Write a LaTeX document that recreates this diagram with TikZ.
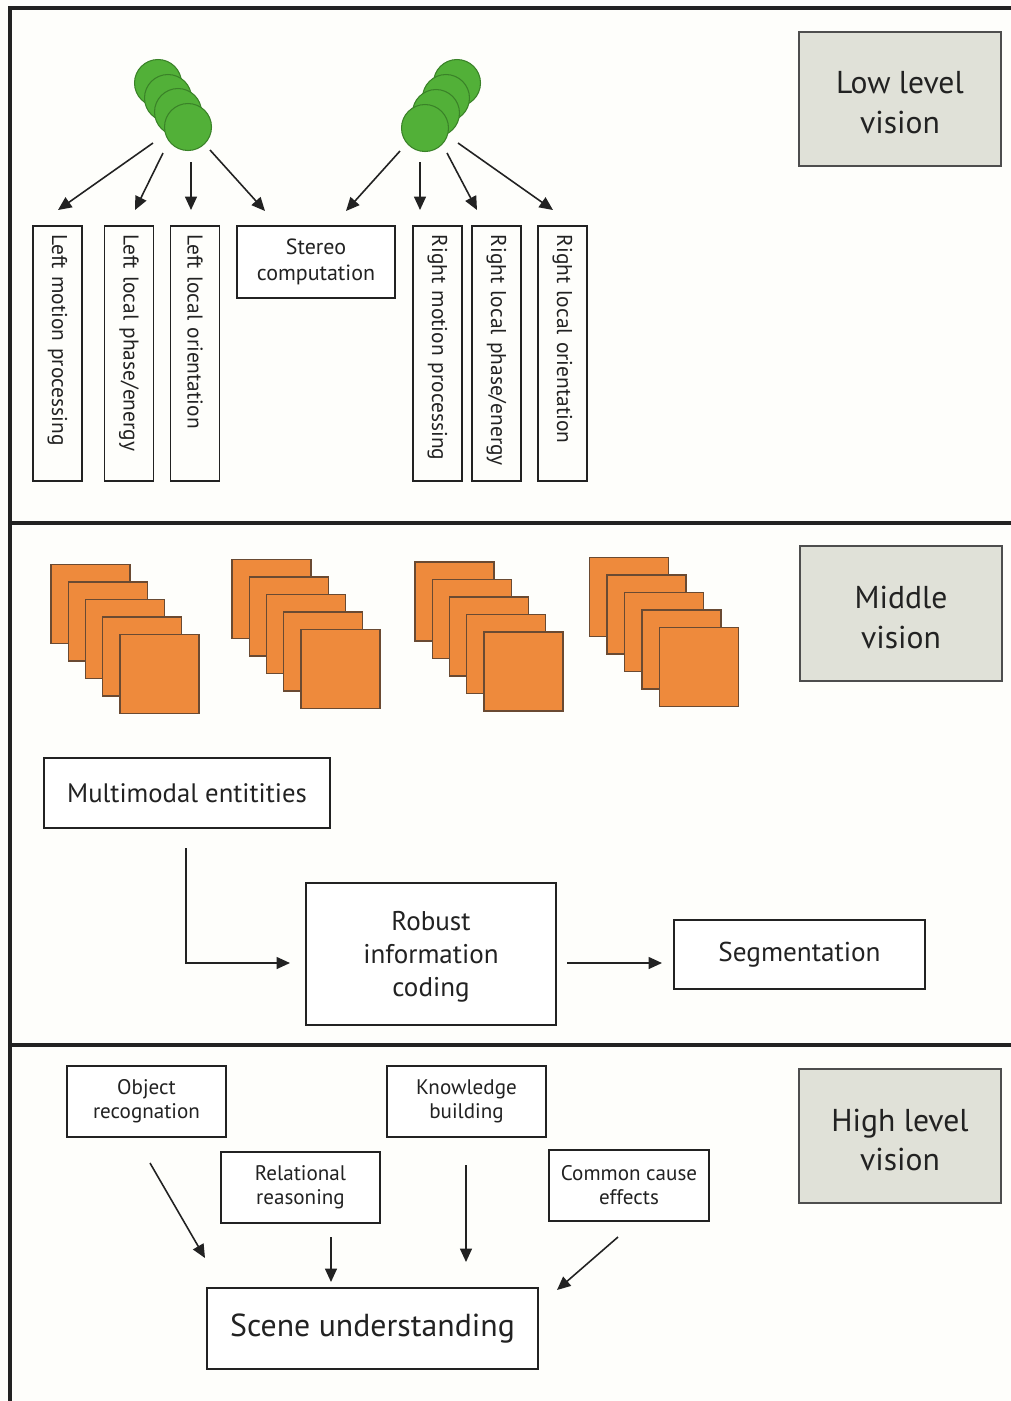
\documentclass[tikz,border=0pt]{standalone}
\usepackage{fontspec}
\setmainfont{PT Sans}
\usetikzlibrary{arrows.meta}
\definecolor{bg}{HTML}{FEFEFB}
\definecolor{ballfill}{HTML}{52B038}
\definecolor{ballline}{HTML}{3A8228}
\definecolor{sqfill}{HTML}{EE8A3C}
\definecolor{sqline}{HTML}{6A4A32}
\definecolor{lvlfill}{HTML}{E0E1D8}
\definecolor{ink}{HTML}{222222}
\tikzset{
  frameline/.style={line width=1.8pt, ink},
  ball/.style={circle, draw=ballline, fill=ballfill, line width=0.6pt, minimum size=0.94cm, inner sep=0pt},
  osq/.style={draw=sqline, fill=sqfill, line width=0.7pt, minimum size=1.58cm, inner sep=0pt},
  vbox/.style={draw=ink, line width=0.9pt, rotate=-90, minimum width=5.1cm, minimum height=0.98cm,
    text width=4.76cm, align=left, inner xsep=0.17cm, font=\fontsize{12.2}{14}\selectfont, text=ink},
  tbox/.style={draw=ink, line width=0.9pt, fill=white, align=center, inner sep=0pt, text=ink},
  lvl/.style={draw=ink!80, line width=0.9pt, fill=lvlfill, minimum width=4.04cm, minimum height=2.68cm},
  lvltext/.style={align=center, font=\fontsize{18}{22.7}\selectfont, text=ink},
  arr/.style={-{Triangle[length=2.7mm, width=2.4mm]}, line width=0.9pt, ink},
}
\begin{document}
\begin{tikzpicture}[x=0.02cm, y=-0.02cm]
\fill[bg] (0,0) rectangle (1011,1401);
\useasboundingbox (0,0) rectangle (1011,1401);
% frame
\draw[frameline] (10,1401) -- (10,8) -- (1011,8);
\draw[frameline] (10,523) -- (1011,523);
\draw[frameline] (10,1045) -- (1011,1045);

% ---------- Low level vision ----------
\node[lvl] (low) at (900,99) {};
\node[lvltext] (lowt) at (900,103) {Low level\\vision};

\node[ball] (l1) at (158,83) {};
\node[ball] (l2) at (168,98) {};
\node[ball] (l3) at (178,112) {};
\node[ball] (l4) at (188,127) {};
\node[ball] (r1) at (457,83) {};
\node[ball] (r2) at (446,98) {};
\node[ball] (r3) at (436,113) {};
\node[ball] (r4) at (425,128) {};

\node[vbox] (lmp) at (57.5,353.5) {Left motion processing};
\node[vbox] (lpe) at (129,353.5) {Left local phase/energy};
\node[vbox] (lor) at (195,353.5) {Left local orientation};
\node[tbox, minimum width=3.16cm, minimum height=1.44cm, font=\fontsize{12.5}{14.8}\selectfont] (stereo) at (316,262) {Stereo\\computation};
\node[vbox] (rmp) at (437.5,353.5) {Right motion processing};
\node[vbox] (rpe) at (496.5,353.5) {Right local phase/energy};
\node[vbox] (ror) at (562.5,353.5) {Right local orientation};

\coordinate (la1) at (153,143); \coordinate (la1e) at (58,210);
\coordinate (la2) at (163,153); \coordinate (la2e) at (135,210);
\coordinate (la3) at (191,162); \coordinate (la3e) at (191,210);
\coordinate (la4) at (210,150); \coordinate (la4e) at (265,211);
\draw[arr] (la1) -- (la1e);
\draw[arr] (la2) -- (la2e);
\draw[arr] (la3) -- (la3e);
\draw[arr] (la4) -- (la4e);
\coordinate (ra1) at (400,151); \coordinate (ra1e) at (346,211);
\coordinate (ra2) at (420,162); \coordinate (ra2e) at (420,210);
\coordinate (ra3) at (447,153); \coordinate (ra3e) at (477,210);
\coordinate (ra4) at (458,143); \coordinate (ra4e) at (553,210);
\draw[arr] (ra1) -- (ra1e);
\draw[arr] (ra2) -- (ra2e);
\draw[arr] (ra3) -- (ra3e);
\draw[arr] (ra4) -- (ra4e);

% ---------- Middle vision ----------
\node[lvl, minimum height=2.7cm] (mid) at (901,613.5) {};
\node[lvltext] (midt) at (901,617.5) {Middle\\vision};

\foreach \i in {0,...,4} {
  \node[osq] (a\i) at ({90.5+17.25*\i},{604+17.5*\i}) {};
}
\foreach \i in {0,...,4} {
  \node[osq] (b\i) at ({271.5+17.25*\i},{599+17.5*\i}) {};
}
\foreach \i in {0,...,4} {
  \node[osq] (c\i) at ({454.5+17.25*\i},{601.5+17.5*\i}) {};
}
\foreach \i in {0,...,4} {
  \node[osq] (d\i) at ({629+17.5*\i},{597+17.5*\i}) {};
}

\node[tbox, minimum width=5.72cm, minimum height=1.4cm, font=\fontsize{15.2}{18}\selectfont] (multi) at (187,793) {Multimodal entitities};
\node[tbox, minimum width=5.0cm, minimum height=2.84cm, font=\fontsize{15.4}{18.7}\selectfont] (robust) at (431,954) {};
\node[align=center, font=\fontsize{15.4}{18.7}\selectfont, text=ink] (robustt) at (431,957) {Robust\\information\\coding};
\node[tbox, minimum width=5.02cm, minimum height=1.38cm, font=\fontsize{15.5}{18}\selectfont] (seg) at (799.5,954.5) {Segmentation};

\coordinate (m1) at (186,848);
\coordinate (m2) at (290,963);
\draw[arr] (m1) |- (m2);
\coordinate (s1) at (567,963);
\coordinate (s2) at (662,963);
\draw[arr] (s1) -- (s2);

% ---------- High level vision ----------
\node[lvl] (high) at (900,1136) {};
\node[lvltext] (hight) at (900,1140) {High level\\vision};

\node[tbox, minimum width=3.18cm, minimum height=1.42cm, font=\fontsize{12}{13.6}\selectfont] (obj) at (146.5,1101.5) {Object\\recognation};
\node[tbox, minimum width=3.18cm, minimum height=1.42cm, font=\fontsize{12}{13.6}\selectfont] (know) at (466.5,1101.5) {Knowledge\\building};
\node[tbox, minimum width=3.18cm, minimum height=1.42cm, font=\fontsize{12}{13.6}\selectfont] (rel) at (300.5,1187.5) {Relational\\reasoning};
\node[tbox, minimum width=3.2cm, minimum height=1.42cm, font=\fontsize{12}{13.6}\selectfont] (cause) at (629,1185.5) {Common cause\\effects};
\node[tbox, minimum width=6.62cm, minimum height=1.62cm, font=\fontsize{18.1}{21}\selectfont] (scene) at (372.5,1328.5) {Scene understanding};

\coordinate (h1) at (150,1163); \coordinate (h1e) at (205,1258);
\coordinate (h2) at (331,1237); \coordinate (h2e) at (331,1282);
\coordinate (h3) at (466,1165); \coordinate (h3e) at (466,1262);
\coordinate (h4) at (618,1237); \coordinate (h4e) at (557,1290);
\draw[arr] (h1) -- (h1e);
\draw[arr] (h2) -- (h2e);
\draw[arr] (h3) -- (h3e);
\draw[arr] (h4) -- (h4e);
\end{tikzpicture}
\end{document}
